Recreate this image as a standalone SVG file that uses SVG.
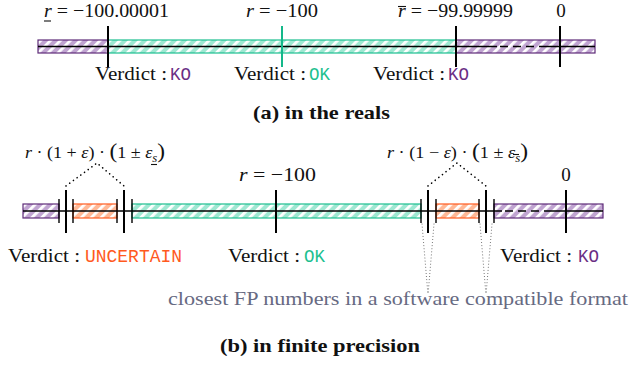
<svg xmlns="http://www.w3.org/2000/svg" width="630" height="367" viewBox="0 0 630 367">
<defs>
<pattern id="hPurple" width="7" height="7" patternUnits="userSpaceOnUse" patternTransform="rotate(45)">
<rect width="7" height="7" fill="#c0a4d1"/><rect width="2.8" height="7" fill="#fff"/>
</pattern>
<pattern id="hGreen" width="7" height="7" patternUnits="userSpaceOnUse" patternTransform="rotate(45)">
<rect width="7" height="7" fill="#9ee8d2"/><rect width="2.8" height="7" fill="#fff"/>
</pattern>
<pattern id="hOrange" width="7" height="7" patternUnits="userSpaceOnUse" patternTransform="rotate(45)">
<rect width="7" height="7" fill="#ffb896"/><rect width="2.8" height="7" fill="#fff"/>
</pattern>
<style>
.serif{font-family:"Liberation Serif","DejaVu Serif",serif;font-size:19px;fill:#111}
.math{font-size:17px}
.mono{font-family:"Liberation Mono","DejaVu Sans Mono",monospace;font-size:17.5px}
.it{font-style:italic}
.bold{font-weight:bold}
.ko{fill:#6a2d84}
.ok{fill:#1cbf8f}
.unc{fill:#ff5a1e}
.bp{fill:url(#hPurple);stroke:#5e2b78;stroke-width:1.2}
.bg{fill:url(#hGreen);stroke:#1cbf8f;stroke-width:1.2}
.bo{fill:url(#hOrange);stroke:#ff5a1e;stroke-width:1.2}
.axis{stroke:#000;stroke-width:1.6;fill:none}
.dash{stroke:#000;stroke-width:1.6;stroke-dasharray:8 5;fill:none}
.tick{stroke:#000;stroke-width:2}
.stick{stroke:#000;stroke-width:1.4}
.dots{stroke:#000;stroke-width:1.6;stroke-linecap:round;stroke-dasharray:0.1 4.5;fill:none}
.fdots{stroke:#555;stroke-width:0.9;stroke-linecap:round;stroke-dasharray:0.1 3;fill:none}
.mark{stroke:#111;stroke-width:1.1}
</style>
</defs>

<!-- (a) in the reals -->
<g id="panel-a">
<g id="a-bars">
<rect class="bp" x="38" y="40" width="70" height="13"/>
<rect class="bg" x="108" y="40" width="348" height="13"/>
<rect class="bp" x="456" y="40" width="139" height="13"/>
</g>
<g id="a-axis">
<line class="axis" x1="38" y1="46.5" x2="497" y2="46.5"/>
<line class="dash" x1="500" y1="46.5" x2="543" y2="46.5"/>
<line class="axis" x1="543" y1="46.5" x2="595" y2="46.5"/>
</g>
<g id="a-ticks">
<line class="tick" x1="108" y1="26" x2="108" y2="67"/>
<line class="tick" x1="282" y1="26" x2="282" y2="67" style="stroke:#14b88a"/>
<line class="tick" x1="456" y1="26" x2="456" y2="67"/>
<line class="tick" x1="560" y1="26" x2="560" y2="67"/>
</g>
<g id="a-labels">
<text class="serif" x="44" y="17" textLength="125" lengthAdjust="spacingAndGlyphs"><tspan class="it">r</tspan> = −100.00001</text>
<line class="mark" x1="44" y1="21" x2="51" y2="21"/>
<text class="serif" x="246" y="17" textLength="72" lengthAdjust="spacingAndGlyphs"><tspan class="it">r</tspan> = −100</text>
<text class="serif" x="398" y="17" textLength="115" lengthAdjust="spacingAndGlyphs"><tspan class="it">r</tspan> = −99.99999</text>
<line class="mark" x1="398" y1="6.5" x2="406" y2="6.5"/>
<text class="serif" x="561" y="17" text-anchor="middle">0</text>
</g>
<g id="a-verdicts">
<text class="serif" x="95" y="80" textLength="72" lengthAdjust="spacingAndGlyphs">Verdict :</text>
<text class="mono ko" x="170" y="80">KO</text>
<text class="serif" x="234" y="80" textLength="72" lengthAdjust="spacingAndGlyphs">Verdict :</text>
<text class="mono ok" x="309" y="80">OK</text>
<text class="serif" x="373" y="80" textLength="72" lengthAdjust="spacingAndGlyphs">Verdict :</text>
<text class="mono ko" x="448" y="80">KO</text>
</g>
<text class="serif bold" x="253" y="119" textLength="137" lengthAdjust="spacingAndGlyphs">(a) in the reals</text>
</g>

<!-- (b) in finite precision -->
<g id="panel-b">
<g id="b-bars">
<rect class="bp" x="23" y="204" width="36" height="14"/>
<rect class="bo" x="73" y="204" width="44" height="14"/>
<rect class="bg" x="132" y="204" width="289" height="14"/>
<rect class="bo" x="436" y="204" width="43" height="14"/>
<rect class="bp" x="494" y="204" width="109" height="14"/>
</g>
<g id="b-axis">
<line class="axis" x1="23" y1="211" x2="502" y2="211"/>
<line class="dash" x1="505" y1="211" x2="546" y2="211"/>
<line class="axis" x1="546" y1="211" x2="603" y2="211"/>
</g>
<g id="b-short-ticks">
<line class="stick" x1="59" y1="199" x2="59" y2="223"/>
<line class="stick" x1="73" y1="199" x2="73" y2="223"/>
<line class="stick" x1="117" y1="199" x2="117" y2="223"/>
<line class="stick" x1="132" y1="199" x2="132" y2="223"/>
<line class="stick" x1="421" y1="199" x2="421" y2="223"/>
<line class="stick" x1="436" y1="199" x2="436" y2="223"/>
<line class="stick" x1="479" y1="199" x2="479" y2="223"/>
<line class="stick" x1="494" y1="199" x2="494" y2="223"/>
</g>
<g id="b-ticks">
<line class="tick" x1="66" y1="190" x2="66" y2="233"/>
<line class="tick" x1="124" y1="190" x2="124" y2="233"/>
<line class="tick" x1="276" y1="190" x2="276" y2="233"/>
<line class="tick" x1="428" y1="190" x2="428" y2="233"/>
<line class="tick" x1="486" y1="190" x2="486" y2="233"/>
<line class="tick" x1="566" y1="190" x2="566" y2="233"/>
</g>
<g id="connectors">
<polyline class="dots" points="66,186 97,163 124,186"/>
<polyline class="dots" points="428,186 457,163 486,186"/>
<line class="fdots" x1="422" y1="224" x2="428" y2="295"/>
<line class="fdots" x1="434" y1="224" x2="428" y2="295"/>
<line class="fdots" x1="480" y1="224" x2="486" y2="295"/>
<line class="fdots" x1="492" y1="224" x2="486" y2="295"/>
</g>
<g id="b-labels">
<text class="serif math" x="25" y="158" textLength="140" lengthAdjust="spacingAndGlyphs"><tspan class="it">r</tspan> · (1 + <tspan class="it">ε</tspan>) · <tspan font-size="22">(</tspan>1 ± <tspan class="it">ε</tspan><tspan class="it" font-size="12" dy="4">s</tspan><tspan font-size="22" dy="-4">)</tspan></text>
<line class="mark" x1="151" y1="164.5" x2="157" y2="164.5"/>
<text class="serif math" x="387" y="158" textLength="141" lengthAdjust="spacingAndGlyphs"><tspan class="it">r</tspan> · (1 − <tspan class="it">ε</tspan>) · <tspan font-size="22">(</tspan>1 ± <tspan class="it">ε</tspan><tspan class="it" font-size="12" dy="4">s</tspan><tspan font-size="22" dy="-4">)</tspan></text>
<line class="mark" x1="513" y1="154.5" x2="519" y2="154.5"/>
<text class="serif" x="239" y="181" textLength="77" lengthAdjust="spacingAndGlyphs"><tspan class="it">r</tspan> = −100</text>
<text class="serif" x="566" y="181" text-anchor="middle">0</text>
</g>
<g id="b-verdicts">
<text class="serif" x="8" y="262" textLength="72" lengthAdjust="spacingAndGlyphs">Verdict :</text>
<text class="mono unc" x="85" y="262" textLength="97" lengthAdjust="spacingAndGlyphs">UNCERTAIN</text>
<text class="serif" x="228" y="262" textLength="72" lengthAdjust="spacingAndGlyphs">Verdict :</text>
<text class="mono ok" x="304" y="262">OK</text>
<text class="serif" x="500" y="262" textLength="72" lengthAdjust="spacingAndGlyphs">Verdict :</text>
<text class="mono ko" x="578" y="262">KO</text>
</g>
<text class="serif" x="168" y="305" textLength="460" lengthAdjust="spacingAndGlyphs" style="fill:#676a82">closest FP numbers in a software compatible format</text>
<text class="serif bold" x="220" y="352" textLength="200" lengthAdjust="spacingAndGlyphs">(b) in finite precision</text>
</g>
</svg>
